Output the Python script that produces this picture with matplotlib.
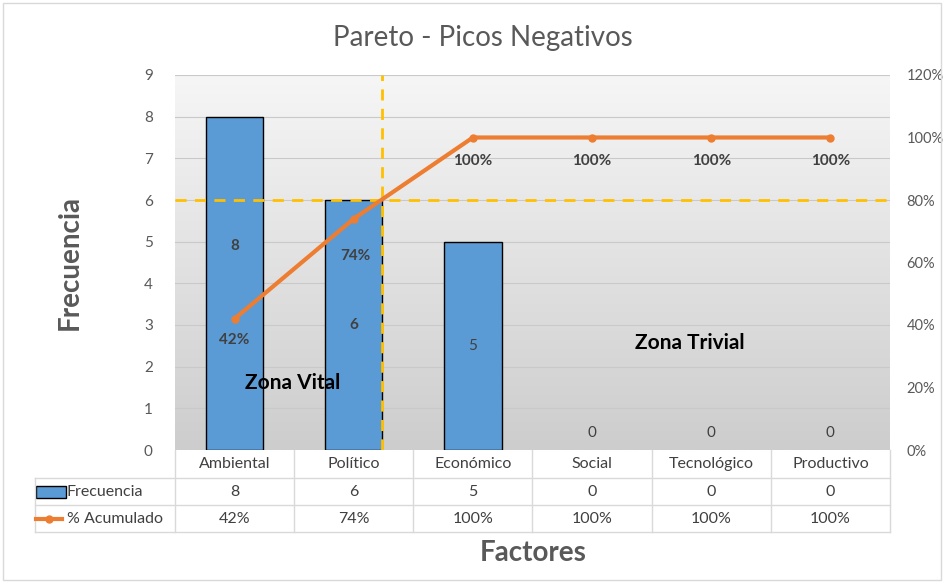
import numpy as np
import matplotlib.pyplot as plt
from matplotlib.patches import Rectangle
from matplotlib.lines import Line2D
from matplotlib.colors import LinearSegmentedColormap

plt.rcParams['font.family'] = ['Lato', 'DejaVu Sans']

factores = ['Ambiental', 'Político', 'Económico', 'Social', 'Tecnológico', 'Productivo']
frecuencia = [8, 6, 5, 0, 0, 0]
acumulado = [0.42, 0.74, 1.00, 1.00, 1.00, 1.00]
acum_txt = ['42%', '74%', '100%', '100%', '100%', '100%']
pct_ticks = [0, 0.2, 0.4, 0.6, 0.8, 1.0, 1.2]

BLUE = '#5B9BD5'
ORANGE = '#ED7D31'
GOLD = '#FFC000'
TXT = '#404040'

fig = plt.figure(figsize=(9.45, 5.83), dpi=100)
W, H = 945, 583

def fx(px):
    return px / W

def fy(py):
    return 1 - py / H

# chart border
fig.patches.append(Rectangle((fx(3), fy(580)), fx(938), 577 / H, transform=fig.transFigure,
                             fill=False, edgecolor='#d9d9d9', lw=1))

L, R, T, B = 175, 890, 75, 450
ax = fig.add_axes([fx(L), fy(B), fx(R - L), (B - T) / H])
ax.set_xlim(-0.5, 5.5)
ax.set_ylim(0, 9)

# gradient background
grad = np.linspace(0, 1, 256).reshape(-1, 1)
cmap = LinearSegmentedColormap.from_list('g', ['#f6f6f6', '#cdcdcd'])
ax.imshow(grad, extent=(-0.5, 5.5, 0, 9), aspect='auto', cmap=cmap, origin='upper', zorder=0)

for y in range(1, 10):
    ax.axhline(y, color='#c9c9c9', lw=0.8, zorder=1)

x = np.arange(len(factores))
edges = ['black' if v > 0 else 'none' for v in frecuencia]
ax.bar(x, frecuencia, width=0.48, color=BLUE, edgecolor=edges, lw=1, zorder=2)

ax.axhline(6, color=GOLD, lw=2, ls=(0, (4, 3)), zorder=3)
ax.axvline(1.24, color=GOLD, lw=2, ls=(0, (4, 3)), zorder=3)

for spine in ax.spines.values():
    spine.set_visible(False)
ax.set_xticks([])
ax.set_yticks(range(10))
ax.tick_params(axis='y', length=0, pad=16, labelsize=11, labelcolor='#595959')

# bar labels
bar_lab_y = [4.9, 3.0, 2.5, 0.4, 0.4, 0.4]
for i, v in enumerate(frecuencia):
    ax.text(i, bar_lab_y[i], str(v), ha='center', va='center', fontsize=11,
            color=TXT, fontweight='bold' if i < 2 else 'normal', zorder=6)

ax2 = ax.twinx()
ax2.set_ylim(0, 1.2)
ax2.plot(x, acumulado, color=ORANGE, lw=3, marker='o', ms=5, zorder=5)
ax2.set_yticks(pct_ticks)
ax2.set_yticklabels([f'{int(round(p * 100))}%' for p in pct_ticks])
ax2.tick_params(axis='y', length=0, pad=12, labelsize=10.5, labelcolor='#595959')
for spine in ax2.spines.values():
    spine.set_visible(False)

lab_off = [(0, -0.068), (0.01, -0.12), (0, -0.075), (0, -0.075), (0, -0.075), (0, -0.075)]
for i, t in enumerate(acum_txt):
    dx, dy = lab_off[i]
    ax2.text(i + dx, acumulado[i] + dy, t, ha='center', va='center', fontsize=11,
             color=TXT, fontweight='bold')

fig.text(fx(293), fy(383), 'Zona Vital', ha='center', va='center', fontsize=15,
         fontweight='bold', color='black')
fig.text(fx(690), fy(343), 'Zona Trivial', ha='center', va='center', fontsize=15,
         fontweight='bold', color='black')

fig.text(fx(483), fy(38), 'Pareto - Picos Negativos', ha='center', va='center',
         fontsize=20, color='#595959')
fig.text(fx(70), fy(263), 'Frecuencia', ha='center', va='center', rotation=90,
         fontsize=20, fontweight='bold', color='#595959')
fig.text(fx(533), fy(553), 'Factores', ha='center', va='center',
         fontsize=20, fontweight='bold', color='#595959')

# data table
grid_c = '#d9d9d9'
cols = np.linspace(L, R, len(factores) + 1)
rows = [450, 478, 505, 532]
for c in cols:
    fig.add_artist(Line2D([fx(c), fx(c)], [fy(rows[0]), fy(rows[-1])], color=grid_c, lw=1))
for r in rows[1:]:
    fig.add_artist(Line2D([fx(35), fx(R)], [fy(r), fy(r)], color=grid_c, lw=1))
fig.add_artist(Line2D([fx(35), fx(35)], [fy(rows[1]), fy(rows[-1])], color=grid_c, lw=1))

centers = (cols[:-1] + cols[1:]) / 2
for i, name in enumerate(factores):
    fig.text(fx(centers[i]), fy(464), name, ha='center', va='center', fontsize=11.5, color=TXT)
    fig.text(fx(centers[i]), fy(492), str(frecuencia[i]), ha='center', va='center',
             fontsize=11.5, color=TXT)
    fig.text(fx(centers[i]), fy(519), acum_txt[i], ha='center', va='center',
             fontsize=11.5, color=TXT)

fig.patches.append(Rectangle((fx(36), fy(498)), fx(30), 12 / H, transform=fig.transFigure,
                             facecolor=BLUE, edgecolor='black', lw=1))
fig.text(fx(67), fy(492), 'Frecuencia', ha='left', va='center', fontsize=11.5, color=TXT)
fig.add_artist(Line2D([fx(36), fx(62)], [fy(519), fy(519)], color=ORANGE, lw=3))
fig.add_artist(Line2D([fx(49)], [fy(519)], color=ORANGE, marker='o', ms=5, lw=0))
fig.text(fx(67), fy(519), '% Acumulado', ha='left', va='center', fontsize=11.5, color=TXT)

fig.savefig('out.png', dpi=100)
